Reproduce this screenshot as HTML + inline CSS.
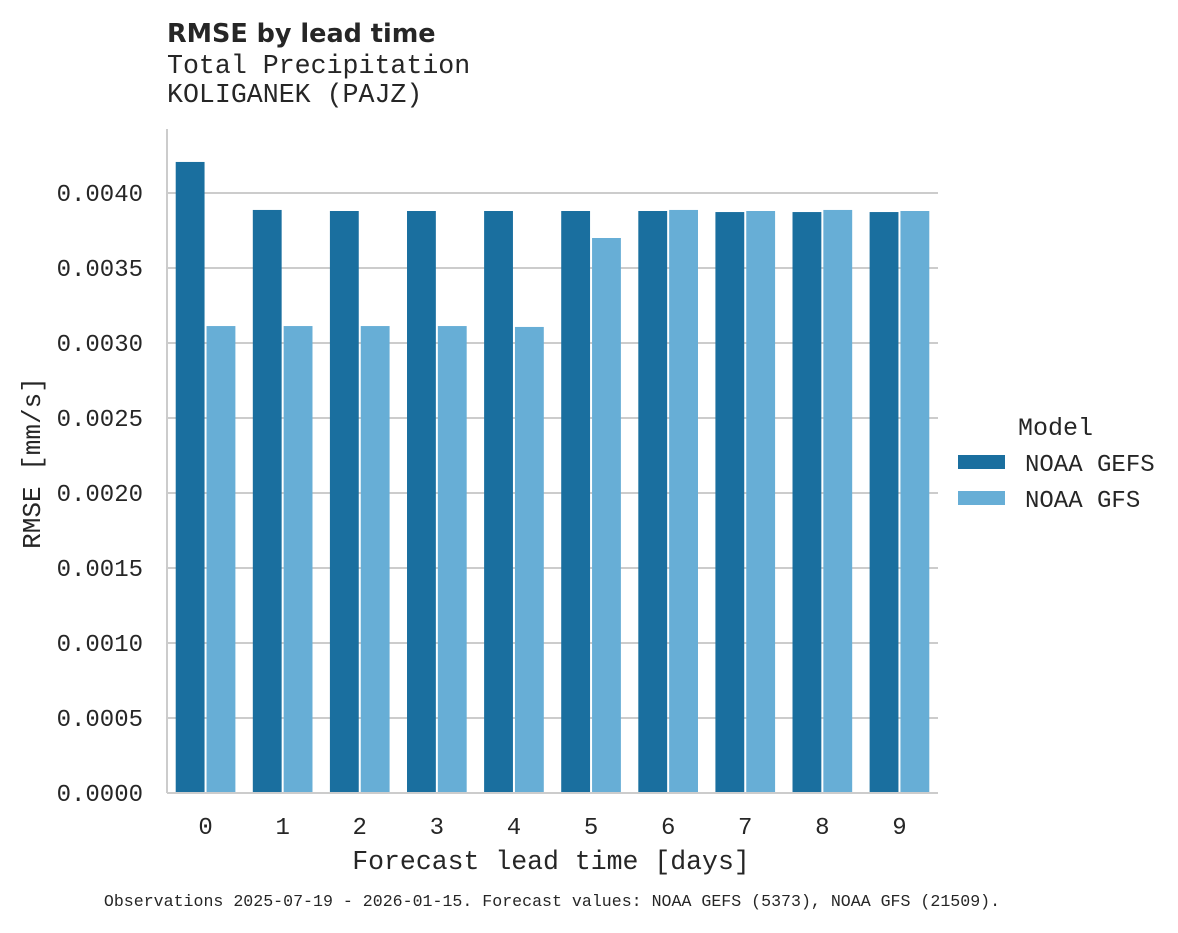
<!DOCTYPE html>
<html><head><meta charset="utf-8"><style>
body{margin:0;background:#fff;}
svg text{font-family:"Liberation Mono",monospace;fill:#262626;}
</style></head><body>
<svg id="chart" width="1178" height="928" xmlns="http://www.w3.org/2000/svg">
<text x="167" y="42" style="font-family:'DejaVu Sans',sans-serif;font-weight:bold;font-size:25.5px">RMSE by lead time</text>
<text x="167" y="73" font-size="26.6">Total Precipitation</text>
<text x="167" y="102" font-size="26.6">KOLIGANEK (PAJZ)</text>
<g id="grid"></g>
<g id="bars"></g>
<line x1="167" y1="129" x2="167" y2="793" stroke="#ccc" stroke-width="2"/>
<line x1="167" y1="793" x2="938" y2="793" stroke="#ccc" stroke-width="2"/>
<g id="yticks"></g>
<g id="xticks"></g>
<text x="551" y="869" font-size="26.5" text-anchor="middle">Forecast lead time [days]</text>
<text transform="translate(40,463) rotate(-90)" font-size="26" text-anchor="middle">RMSE [mm/s]</text>
<g>
<text x="1018" y="435" font-size="25">Model</text>
<rect x="958" y="455" width="47" height="14" fill="#1a6f9f"/>
<text x="1025" y="471" font-size="24">NOAA GEFS</text>
<rect x="958" y="491" width="47" height="14" fill="#67aed6"/>
<text x="1025" y="507" font-size="24">NOAA GFS</text>
</g>
<text x="552" y="906" font-size="16.6" text-anchor="middle">Observations 2025-07-19 - 2026-01-15. Forecast values: NOAA GEFS (5373), NOAA GFS (21509).</text>
</svg>
<script>
const categories=[0,1,2,3,4,5,6,7,8,9];
const gefs=[0.004207,0.003887,0.003880,0.003880,0.003880,0.003880,0.003880,0.003873,0.003873,0.003873];
const gfs=[0.003113,0.003113,0.003113,0.003113,0.003107,0.003700,0.003887,0.003880,0.003887,0.003880];
const yTicks=["0.0000","0.0005","0.0010","0.0015","0.0020","0.0025","0.0030","0.0035","0.0040"];
const NS="http://www.w3.org/2000/svg";
const x0=167,x1=938,yBase=793,yTop=193,vTop=0.004;
function y(v){return yBase-(v/vTop)*(yBase-yTop);}
const band=(x1-x0)/categories.length;
function xc(i){return x0+band*(i+0.5);}
function mk(tag,attrs,parent){const e=document.createElementNS(NS,tag);for(const k in attrs)e.setAttribute(k,attrs[k]);document.getElementById(parent).appendChild(e);return e;}
yTicks.forEach(t=>{const v=parseFloat(t);const yy=y(v);
 if(v>0){const l=mk('line',{x1:x0,x2:x1,y1:yy,y2:yy,stroke:'#ccc','stroke-width':2},'grid');
 
 }
 const tx=mk('text',{x:143,y:yy+8,'font-size':24,'text-anchor':'end'},'yticks');tx.textContent=t;
 
 
});
const bw=band*0.4-2;
categories.forEach((c,i)=>{
 const a=mk('rect',{x:xc(i)-band*0.4+1,y:y(gefs[i]),width:bw,height:yBase-y(gefs[i]),fill:'#1a6f9f'},'bars');
 
 
 const b=mk('rect',{x:xc(i)+1,y:y(gfs[i]),width:bw,height:yBase-y(gfs[i]),fill:'#67aed6'},'bars');
 
 
 const t=mk('text',{x:xc(i),y:834,'font-size':24,'text-anchor':'middle'},'xticks');t.textContent=c;
 
 
});
</script>
</body></html>
